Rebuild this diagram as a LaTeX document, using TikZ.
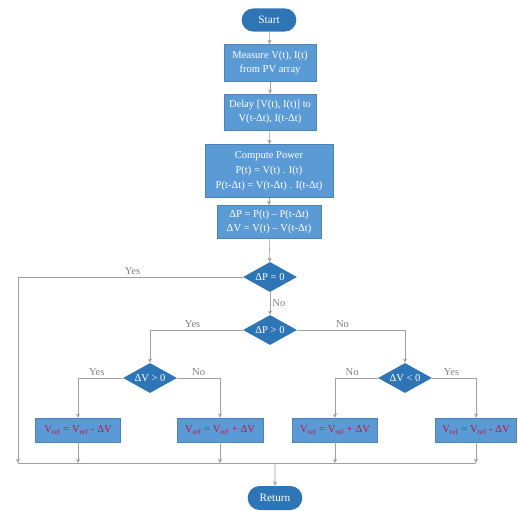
\documentclass[tikz,border=0pt]{standalone}
\usepackage{fontspec}
\setmainfont{Liberation Serif}
\usetikzlibrary{shapes.geometric,shapes.misc,arrows.meta}

\definecolor{boxblue}{RGB}{91,155,213}
\definecolor{darkblue}{RGB}{46,117,182}
\definecolor{linegray}{RGB}{160,160,160}
\definecolor{refred}{RGB}{190,20,70}

\begin{document}
\begin{tikzpicture}[x=0.025cm,y=-0.025cm,
        font=\fontsize{7.5}{10.5}\selectfont,
        procbox/.style={rectangle, fill=boxblue, draw=boxblue!85!black, thin,
            text=white, align=center, inner sep=1pt},
        endbox/.style={rounded rectangle, fill=darkblue, text=white,
            minimum width=1.6cm, minimum height=0.58cm, font=\fontsize{8}{10}\selectfont},
        decbox/.style={diamond, fill=darkblue, text=white, inner sep=0pt,
            aspect=1.8, minimum width=1.35cm, minimum height=0.75cm},
        refbox/.style={procbox, text=refred, minimum height=0.6cm},
        flow/.style={draw=linegray, thin, -{Stealth[length=3pt,width=3pt]}},
        conn/.style={draw=linegray, thin},
        lbl/.style={text=linegray!80!black, inner sep=1.5pt}]
    \useasboundingbox (0,0) rectangle (518,511);
            % oberer Teil:
            \node[endbox] (start) at (269,20) {Start};
            \node[procbox, minimum width=2.3cm, minimum height=0.93cm] (meas) at (270,63)
                {Measure V(t), I(t)\\from PV array};
            \node[procbox, minimum width=2.3cm, minimum height=0.9cm] (delay) at (270,112)
                {Delay [V(t), I(t)] to\\V(t-Δt), I(t-Δt)};
            \node[procbox, minimum width=3.2cm, minimum height=1.33cm] (comp) at (269,171)
                {Compute Power\\P(t) = V(t) . I(t)\\P(t-Δt) = V(t-Δt) . I(t-Δt)};
            \node[procbox, minimum width=2.6cm, minimum height=0.83cm] (diff) at (269,222)
                {ΔP = P(t) – P(t-Δt)\\ΔV = V(t) – V(t-Δt)};
            % Entscheidungen:
            \node[decbox] (dpz) at (270,277) {ΔP = 0};
            \node[decbox] (dpg) at (270,330) {ΔP > 0};
            \node[decbox] (dvg) at (150,378) {ΔV > 0};
            \node[decbox] (dvl) at (405,378) {ΔV < 0};
            % untere Boxen:
            \node[refbox, minimum width=2.12cm] (ref1) at (78,430)
                {V\textsubscript{ref} = V\textsubscript{ref} - ΔV};
            \node[refbox, minimum width=2.15cm] (ref2) at (220,430)
                {V\textsubscript{ref} = V\textsubscript{ref} + ΔV};
            \node[refbox, minimum width=2.12cm] (ref3) at (335,430)
                {V\textsubscript{ref} = V\textsubscript{ref} + ΔV};
            \node[refbox, minimum width=2.02cm] (ref4) at (476,430)
                {V\textsubscript{ref} = V\textsubscript{ref} - ΔV};
            \node[endbox, minimum height=0.6cm] (ret) at (275,498) {Return};
            % Hilfspunkte:
            \coordinate (yescorner) at (18,277);
            \coordinate (botleft) at (18,463);
            \coordinate (botright) at (476,463);
            \coordinate (retjoin) at (275,463);
            % Verbindungen:
            \draw[flow] (start) -- (meas);
            \draw[flow] (meas) -- (delay);
            \draw[flow] (delay) -- (comp);
            \draw[flow] (comp) -- (diff);
            \draw[flow] (diff) -- (dpz);
            \draw[flow] (dpz) -- (dpg)
                node[midway, right, lbl] {No};
            \draw[conn] (dpz.west) -- (yescorner)
                node[pos=0.49, above, lbl] {Yes};
            \draw[flow] (yescorner) -- (botleft);
            \draw[flow] (dpg.west) -| (dvg.north)
                node[pos=0.27, above, lbl] {Yes};
            \draw[flow] (dpg.east) -| (dvl.north)
                node[pos=0.21, above, lbl] {No};
            \draw[flow] (dvg.west) -| (ref1.north)
                node[pos=0.29, above, lbl] {Yes};
            \draw[flow] (dvg.east) -| (ref2.north)
                node[pos=0.25, above, lbl] {No};
            \draw[flow] (dvl.west) -| (ref3.north)
                node[pos=0.3, above, lbl] {No};
            \draw[flow] (dvl.east) -| (ref4.north)
                node[pos=0.22, above, lbl] {Yes};
            \draw[flow] (ref1) -- (ref1 |- botleft);
            \draw[flow] (ref2) -- (ref2 |- botleft);
            \draw[flow] (ref3) -- (ref3 |- botleft);
            \draw[flow] (ref4) -- (ref4 |- botleft);
            \draw[conn] (botleft) -- (botright);
            \draw[flow] (retjoin) -- (ret);
\end{tikzpicture}
\end{document}
